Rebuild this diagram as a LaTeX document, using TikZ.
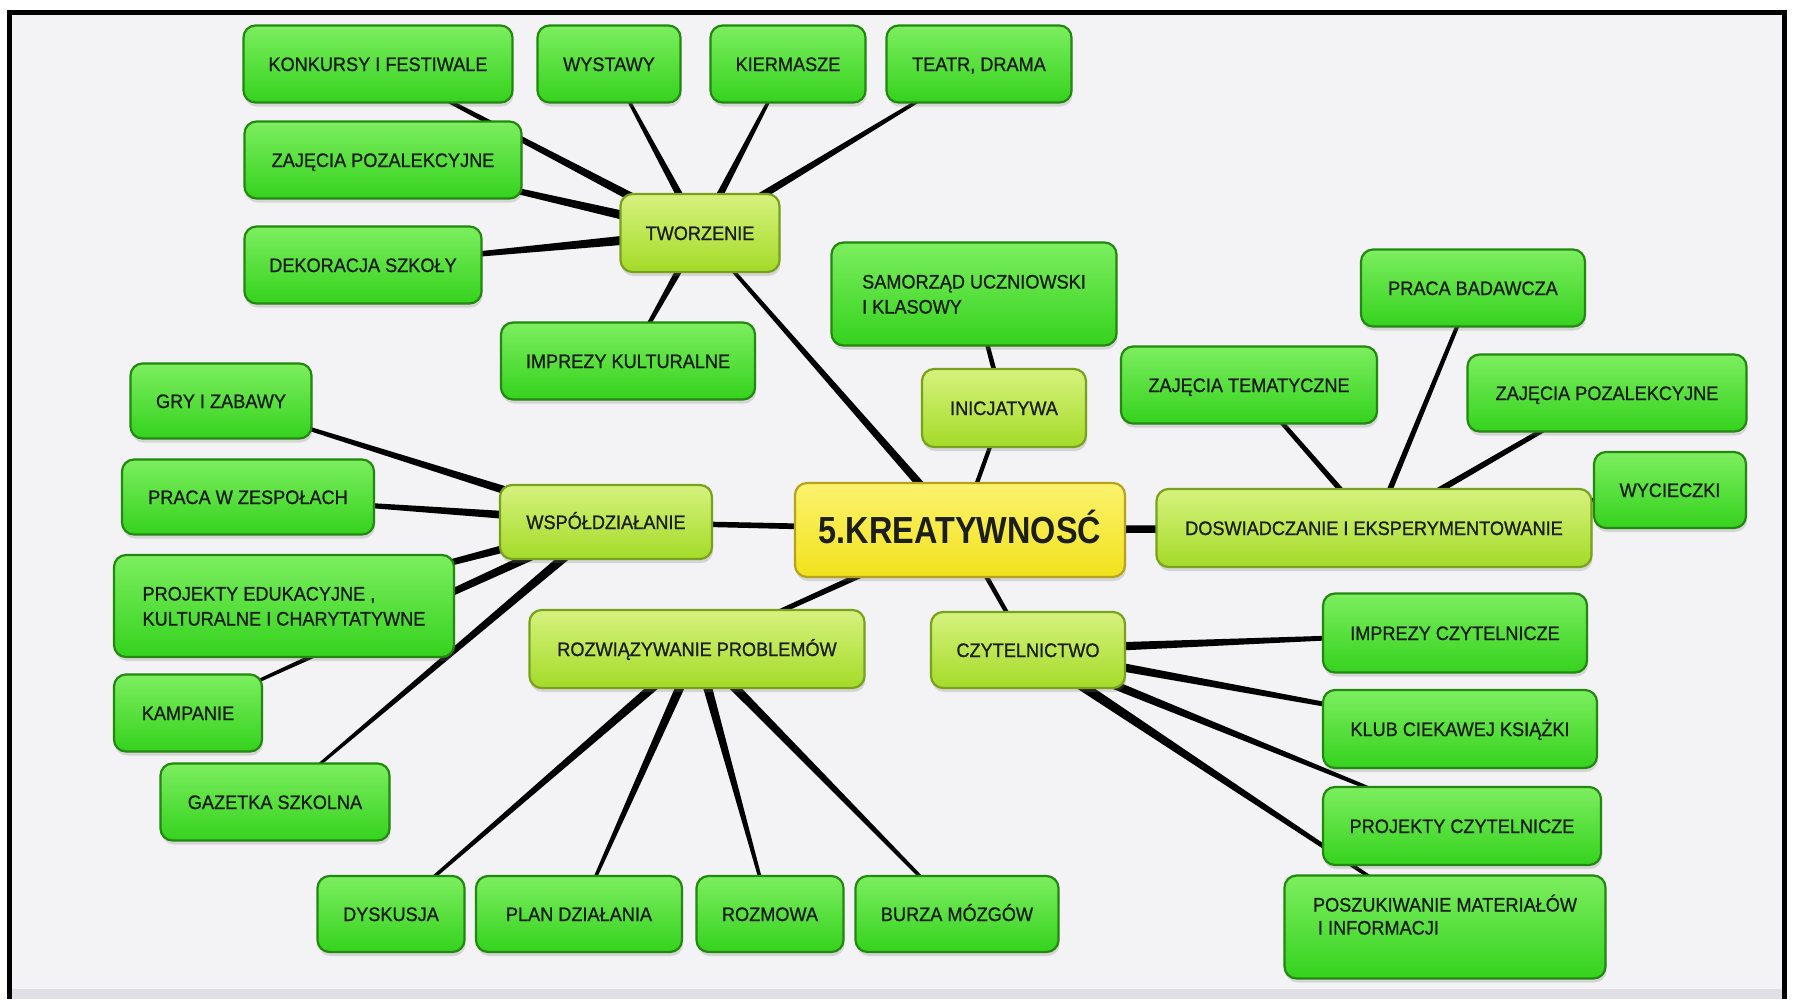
\documentclass[tikz,border=0pt]{standalone}
\usepackage{fontspec}
\setmainfont{Liberation Sans}[FakeStretch=0.93,FakeBold=1]
\newfontfamily\corefont{Liberation Sans}[FakeStretch=0.86]
\usetikzlibrary{calc,shadows}
\pgfdeclarelayer{bg}
\pgfdeclarelayer{lines}
\pgfsetlayers{bg,lines,main}
\definecolor{bgcol}{HTML}{F3F2F4}
\definecolor{stripcol}{HTML}{E0DFE3}
\definecolor{txt}{HTML}{1B1E1A}
\definecolor{leaftop}{HTML}{7CEE5F}
\definecolor{leafbot}{HTML}{35D21E}
\definecolor{leafdraw}{HTML}{22880F}
\definecolor{midtop}{HTML}{D6F27E}
\definecolor{midbot}{HTML}{A4DB28}
\definecolor{middraw}{HTML}{78A11C}
\definecolor{coretop}{HTML}{FBF26E}
\definecolor{corebot}{HTML}{F2E21C}
\definecolor{coredraw}{HTML}{B6A31B}
\newcommand{\nfont}{\fontsize{19.5}{22}\selectfont}
\newcommand{\tapr}[4]{%
  \fill[black] ($(#1.center)!#3!90:(#2.center)$) -- ($(#2.center)!#4!-90:(#1.center)$)
    -- ($(#2.center)!#4!90:(#1.center)$) -- ($(#1.center)!#3!-90:(#2.center)$) -- cycle;}
% #1 line1, #2 line2, #3 indent of line2, #4 extra gap, #5 declared depth
\newcommand{\twol}[5]{\raisebox{0pt}[14pt][#5]{\begin{tabular}[t]{@{}l@{}}#1\\[#4]\hspace{#3}#2\end{tabular}}}
\begin{document}
\begin{tikzpicture}[x=1pt,y=-1pt,
  box/.style={rounded corners=12pt, line width=2.2pt, inner sep=0pt, font=\nfont, text=txt,
    drop shadow={opacity=0.25, shadow xshift=1pt, shadow yshift=-4pt}},
  oneline/.style={text height=14pt, text depth=0pt},
  sz/.style 2 args={minimum width=#1pt, minimum height=#2pt},
  leafm/.style={box, draw=leafdraw, top color=leaftop, bottom color=leafbot},
  leaf/.style={leafm, oneline},
  mid/.style={box, oneline, draw=middraw, top color=midtop, bottom color=midbot},
  core/.style={box, draw=coredraw, top color=coretop, bottom color=corebot,
    font=\corefont\bfseries\fontsize{37.7}{40}\selectfont, text height=27pt, text depth=0pt}]
\useasboundingbox (0,0) rectangle (1793,999);
\begin{pgfonlayer}{bg}
  \fill[white] (0,0) rectangle (1793,999);
  \fill[bgcol] (12,15) rectangle (1782,999);
  \fill[stripcol] (12,989) rectangle (1782,999);
\end{pgfonlayer}
\fill[black] (7,10) rectangle (1787,15);
\fill[black] (7,10) rectangle (12,999);
\fill[black] (1782,10) rectangle (1787,999);

% centre
\node[core, sz={330}{94}] (kre) at (960,530) {5.KREATYWNOSĆ};

% second level
\node[mid, sz={159}{78}] (tw) at (700,233) {TWORZENIE};
\node[mid, sz={164}{78}] (ini) at (1004,408) {INICJATYWA};
\node[mid, sz={212}{74}] (wsp) at (606,522) {WSPÓŁDZIAŁANIE};
\node[mid, sz={335}{78}] (rozw) at (697,649) {ROZWIĄZYWANIE PROBLEMÓW};
\node[mid, sz={194}{76}] (czy) at (1028,650) {CZYTELNICTWO};
\node[mid, sz={435}{78}] (dos) at (1374,528) {DOSWIADCZANIE I EKSPERYMENTOWANIE};

% leaves: tworzenie
\node[leaf, sz={269}{77}] (kon) at (378,64) {KONKURSY I FESTIWALE};
\node[leaf, sz={143}{77}] (wys) at (609,64) {WYSTAWY};
\node[leaf, sz={155}{77}] (kie) at (788,64) {KIERMASZE};
\node[leaf, sz={185}{77}] (tea) at (979,64) {TEATR, DRAMA};
\node[leaf, sz={277}{77}] (zajl) at (383,160) {ZAJĘCIA POZALEKCYJNE};
\node[leaf, sz={237}{77}] (dek) at (363,265) {DEKORACJA SZKOŁY};
\node[leaf, sz={254}{77}] (imk) at (628,361) {IMPREZY KULTURALNE};
% inicjatywa
\node[leafm, sz={285}{103}] (sam) at (974,294) {\twol{SAMORZĄD UCZNIOWSKI}{I KLASOWY}{0pt}{3pt}{25pt}};
% wspoldzialanie
\node[leaf, sz={181}{75}] (gry) at (221,401) {GRY I ZABAWY};
\node[leaf, sz={252}{75}] (prz) at (248,497) {PRACA W ZESPOŁACH};
\node[leafm, sz={340}{102}] (pro) at (284,606) {\twol{PROJEKTY EDUKACYJNE ,}{KULTURALNE I CHARYTATYWNE}{0pt}{3pt}{25pt}};
\node[leaf, sz={148}{77}] (kam) at (188,713) {KAMPANIE};
\node[leaf, sz={229}{77}] (gaz) at (275,802) {GAZETKA SZKOLNA};
% rozwiazywanie
\node[leaf, sz={147}{76}] (dys) at (391,914) {DYSKUSJA};
\node[leaf, sz={206}{76}] (pla) at (579,914) {PLAN DZIAŁANIA};
\node[leaf, sz={147}{76}] (roz) at (770,914) {ROZMOWA};
\node[leaf, sz={203}{76}] (bur) at (957,914) {BURZA MÓZGÓW};
% czytelnictwo
\node[leaf, sz={264}{79}] (imc) at (1455,633) {IMPREZY CZYTELNICZE};
\node[leaf, sz={274}{78}] (klu) at (1460,729) {KLUB CIEKAWEJ KSIĄŻKI};
\node[leaf, sz={278}{78}] (prc) at (1462,826) {PROJEKTY CZYTELNICZE};
\node[leafm, sz={321}{103}] (pos) at (1445,927) {\twol{POSZUKIWANIE MATERIAŁÓW}{I INFORMACJI}{5pt}{1pt}{45pt}};
% doswiadczanie
\node[leaf, sz={256}{77}] (zat) at (1249,385) {ZAJĘCIA TEMATYCZNE};
\node[leaf, sz={224}{77}] (prb) at (1473,288) {PRACA BADAWCZA};
\node[leaf, sz={279}{77}] (zapr) at (1607,393) {ZAJĘCIA POZALEKCYJNE};
\node[leaf, sz={152}{76}] (wyc) at (1670,490) {WYCIECZKI};

\begin{pgfonlayer}{lines}
  % centre links
  \tapr{kre}{tw}{4.5pt}{1.5pt}
  \tapr{kre}{ini}{2.2pt}{2pt}
  \tapr{ini}{sam}{2.5pt}{2pt}
  \tapr{kre}{wsp}{3.2pt}{2.5pt}
  \tapr{kre}{rozw}{3.5pt}{2pt}
  \tapr{kre}{czy}{2.5pt}{2pt}
  \tapr{kre}{dos}{4pt}{3.5pt}
  % tworzenie
  \tapr{tw}{kon}{5pt}{1.2pt}
  \tapr{tw}{wys}{4.2pt}{1pt}
  \tapr{tw}{kie}{4.2pt}{1pt}
  \tapr{tw}{tea}{4.5pt}{1pt}
  \tapr{tw}{zajl}{5.5pt}{1.2pt}
  \tapr{tw}{dek}{5.5pt}{1.2pt}
  \tapr{tw}{imk}{4.2pt}{1.2pt}
  % wspoldzialanie
  \tapr{wsp}{gry}{5pt}{1.2pt}
  \tapr{wsp}{prz}{5pt}{1.2pt}
  \tapr{wsp}{pro}{5pt}{1.2pt}
  \tapr{wsp}{kam}{5pt}{1pt}
  \tapr{wsp}{gaz}{5pt}{1pt}
  % rozwiazywanie
  \tapr{rozw}{dys}{5pt}{1.2pt}
  \tapr{rozw}{pla}{5pt}{1.2pt}
  \tapr{rozw}{roz}{5pt}{1.2pt}
  \tapr{rozw}{bur}{5pt}{1.2pt}
  % czytelnictwo
  \tapr{czy}{imc}{5pt}{1.2pt}
  \tapr{czy}{klu}{5pt}{1.2pt}
  \tapr{czy}{prc}{5pt}{1pt}
  \tapr{czy}{pos}{5.5pt}{1pt}
  % doswiadczanie
  \tapr{dos}{zat}{3pt}{2pt}
  \tapr{dos}{prb}{3pt}{1.8pt}
  \tapr{dos}{zapr}{3.5pt}{2pt}
  \tapr{dos}{wyc}{2.5pt}{2pt}
\end{pgfonlayer}
\end{tikzpicture}
\end{document}
